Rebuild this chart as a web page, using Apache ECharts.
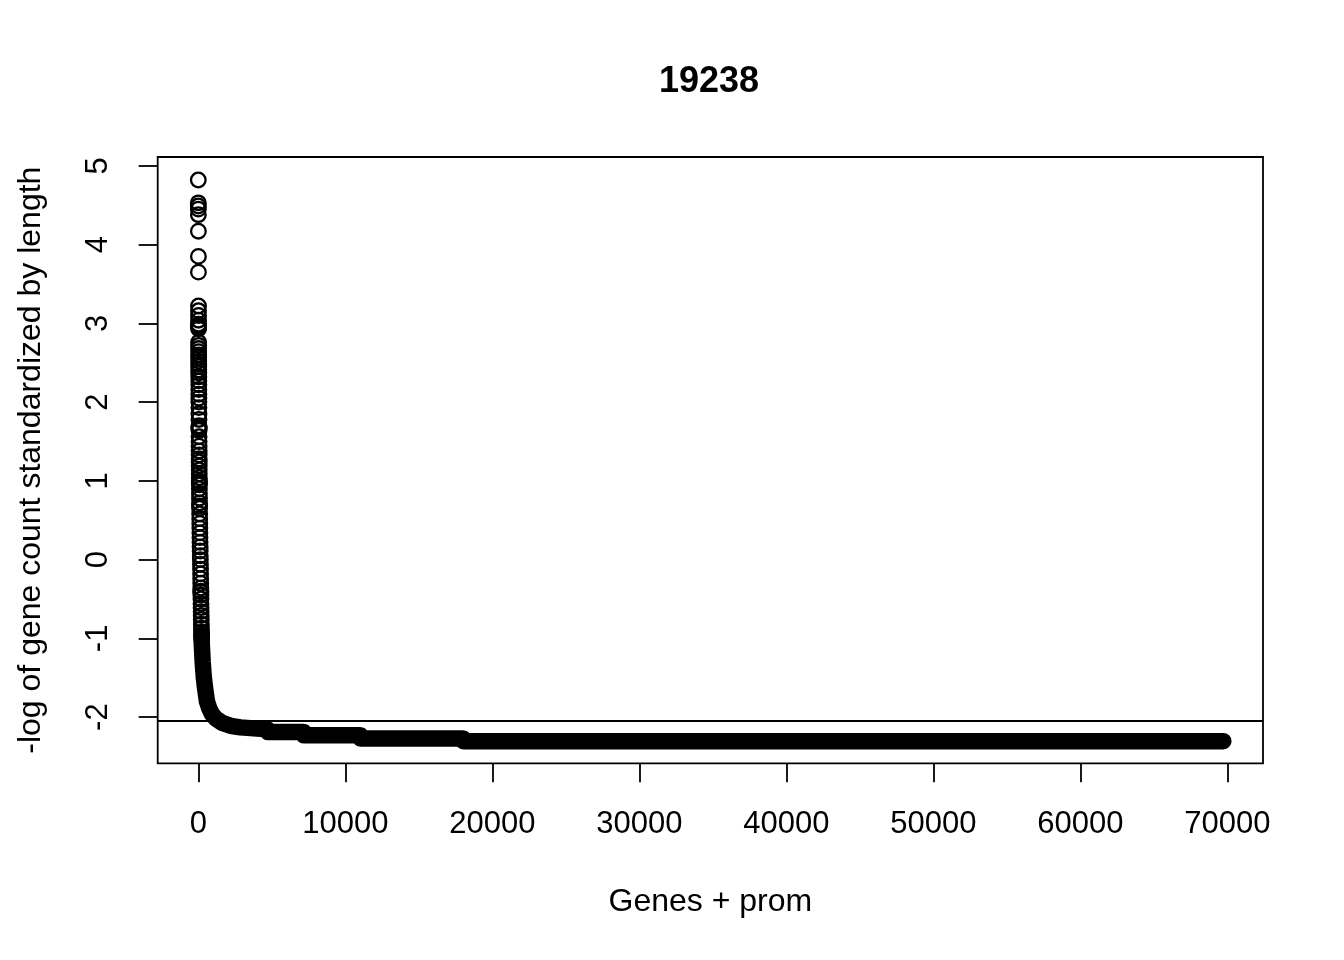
<!DOCTYPE html>
<html>
<head>
<meta charset="utf-8">
<script src="https://cdn.jsdelivr.net/npm/echarts@6.0.0/dist/echarts.min.js"></script>
<style>
  html, body { margin: 0; padding: 0; background: #fff; }
  #chart { width: 1344px; height: 960px; }
</style>
</head>
<body>
<div id="chart"></div>
<script>
// tick labels
const xTicks = [0, 10000, 20000, 30000, 40000, 50000, 60000, 70000];
const yTicks = [-2, -1, 0, 1, 2, 3, 4, 5];

// separate circles at the top of the sorted curve (rank, value)
const topRank = [1, 3, 4, 5, 6, 8, 10, 12,
  15, 16, 17, 18, 19, 20, 21, 22, 23,
  24, 25, 26, 27, 28, 29, 30, 31, 32, 33, 34, 35, 36, 37, 38, 40, 41, 42, 44,
  46, 48, 49, 50, 51, 52, 53,
  54, 55, 57, 58, 60, 61, 63, 64, 66, 68, 70, 72, 73, 74, 75, 76, 79, 82, 85, 88, 90,
  94, 98, 102, 106, 110, 115, 120, 125, 130, 136, 142, 148, 153, 158, 163, 168,
  172, 174, 176, 180, 184, 188, 192, 196, 200, 205, 210, 215, 220, 225, 230];
const topValue = [4.82, 4.53, 4.49, 4.45, 4.38, 4.17, 3.85, 3.65,
  3.22, 3.16, 3.10, 3.04, 2.99, 2.98, 2.97, 2.95, 2.93,
  2.76, 2.72, 2.68, 2.64, 2.60, 2.56, 2.52, 2.48, 2.45, 2.41, 2.37, 2.32, 2.27, 2.22, 2.16, 2.10, 2.05, 2.00, 1.93,
  1.85, 1.78, 1.70, 1.68, 1.67, 1.66, 1.64,
  1.56, 1.50, 1.44, 1.38, 1.33, 1.28, 1.24, 1.19, 1.14, 1.09, 1.04, 1.00, 0.98, 0.97, 0.95, 0.90, 0.84, 0.78, 0.72, 0.68, 0.65,
  0.58, 0.52, 0.46, 0.40, 0.34, 0.28, 0.22, 0.16, 0.11, 0.05, 0.00, -0.06, -0.12, -0.18, -0.24, -0.30,
  -0.36, -0.40, -0.41, -0.45, -0.50, -0.56, -0.61, -0.66, -0.71, -0.76, -0.82, -0.87, -0.92, -0.96, -1.00];

// dense part, where the circles merge into a solid band (rank, value)
const bandRank = [225, 240, 300, 380, 456, 590, 750, 930, 1200, 1600, 2200, 2860,
  2900, 4700, 4750, 7150, 7200, 11000, 11050, 18000, 18050, 69730];
const bandValue = [-0.95, -1.08, -1.30, -1.50, -1.62, -1.80, -1.89, -1.96, -2.02, -2.07, -2.11, -2.13,
  -2.155, -2.155, -2.19, -2.19, -2.23, -2.23, -2.27, -2.27, -2.305, -2.305];

const cutoff = -2.035;

const font = '"Liberation Sans", Arial, Helvetica, sans-serif';
const chart = echarts.init(document.getElementById('chart'));

chart.setOption({
  animation: false,
  backgroundColor: '#fff',
  title: {
    text: '19238',
    left: 704,
    top: 59,
    textAlign: 'center',
    textStyle: { fontFamily: font, fontSize: 36, fontWeight: 'bold', color: '#000' }
  },
  grid: {
    left: 157.7, top: 157, right: 81, bottom: 196.7,
    show: true, borderColor: '#000', borderWidth: 1.8, backgroundColor: 'transparent'
  },
  xAxis: {
    type: 'value',
    min: -2760, max: 72430,
    name: 'Genes + prom',
    nameLocation: 'middle',
    nameGap: 123,
    nameTextStyle: { fontFamily: font, fontSize: 32, color: '#000' },
    axisLine: { show: false, onZero: false },
    splitLine: { show: false },
    axisTick: { show: true, length: 19, customValues: xTicks, lineStyle: { color: '#000', width: 1.8 } },
    axisLabel: {
      customValues: xTicks, margin: 46, fontFamily: font, fontSize: 31, color: '#000',
      formatter: v => String(v)
    }
  },
  yAxis: {
    type: 'value',
    min: -2.586, max: 5.112,
    name: '-log of gene count standardized by length',
    nameLocation: 'middle',
    nameGap: 111,
    nameRotate: 90,
    nameTextStyle: { fontFamily: font, fontSize: 32, color: '#000' },
    axisLine: { show: false, onZero: false },
    splitLine: { show: false },
    axisTick: { show: true, length: 19, customValues: yTicks, lineStyle: { color: '#000', width: 1.8 } },
    axisLabel: {
      customValues: yTicks, rotate: 90, margin: 44, fontFamily: font, fontSize: 31, color: '#000',
      formatter: v => String(v)
    }
  },
  series: [
    {
      type: 'line',
      data: bandRank.map((r, i) => [r, bandValue[i]]),
      showSymbol: false,
      lineStyle: { color: '#000', width: 16.5, cap: 'round', join: 'round' },
      markLine: {
        silent: true,
        symbol: 'none',
        label: { show: false },
        lineStyle: { color: '#000', width: 1.8, type: 'solid' },
        data: [{ yAxis: cutoff }]
      }
    },
    {
      type: 'scatter',
      data: topRank.map((r, i) => [r, topValue[i]]),
      symbol: 'circle',
      symbolSize: 14.6,
      itemStyle: { color: 'transparent', borderColor: '#000', borderWidth: 2.3, opacity: 1 }
    }
  ]
});
</script>
</body>
</html>
